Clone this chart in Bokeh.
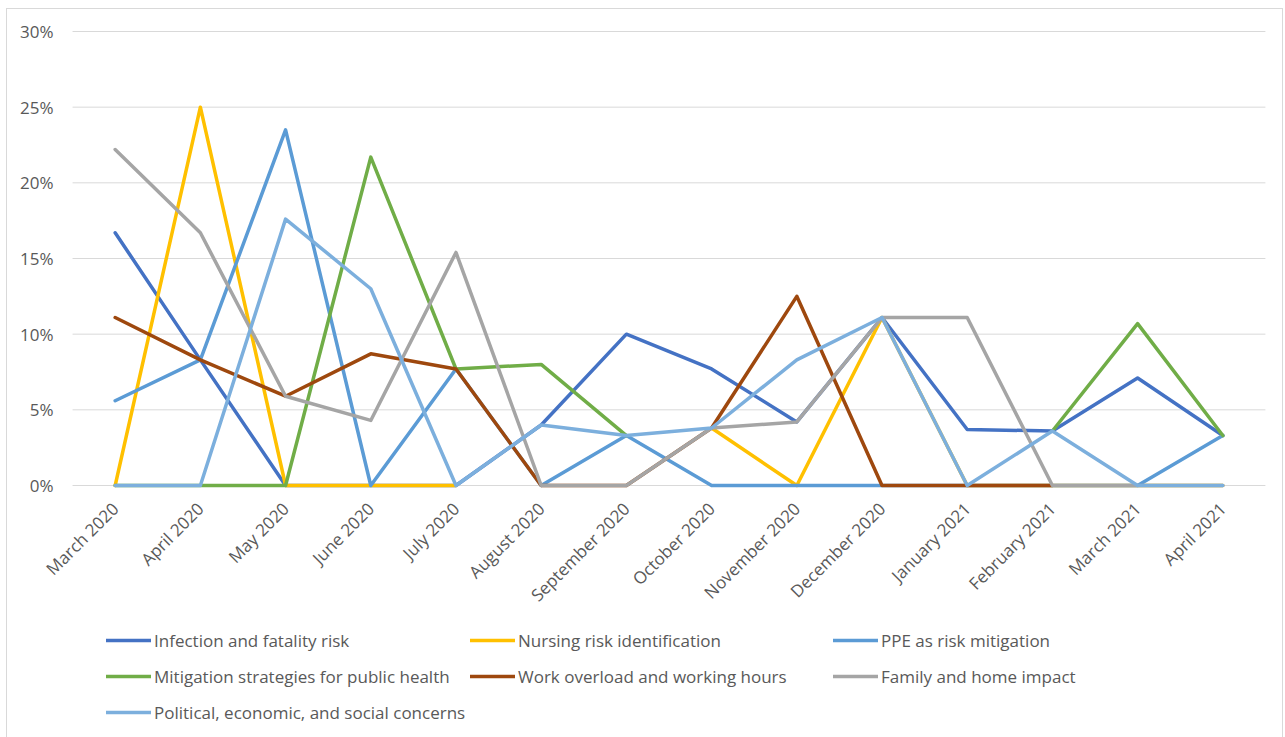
import math
import numpy as np
from bokeh.plotting import figure
from bokeh.models import (Range1d, FixedTicker, PrintfTickFormatter,
                          Legend, LegendItem)
from bokeh.embed import file_html
from bokeh.resources import INLINE

# Months covered by the survey
months = ["March 2020", "April 2020", "May 2020", "June 2020", "July 2020",
          "August 2020", "September 2020", "October 2020", "November 2020",
          "December 2020", "January 2021", "February 2021", "March 2021",
          "April 2021"]

# Share of posts per theme and month (%); None = no entry that month
infection = [16.7, 8.3, 0, 0, 0, 4.0, 10.0, 7.7, 4.2, 11.1, 3.7, 3.6, 7.1, 3.3]
nursing = [0, 25.0, 0, 0, 0, None, None, 3.8, 0, 11.1, 0, 0, 0, 0]
ppe = [5.6, 8.3, 23.5, 0, 7.7, 0, 3.3, 0, 0, 0, 0, 0, 0, 3.3]
mitigation = [0, 0, 0, 21.7, 7.7, 8.0, 3.3, None, None, None, None, 3.6, 10.7, 3.3]
workload = [11.1, 8.3, 5.9, 8.7, 7.7, 0, 0, 3.8, 12.5, 0, 0, 0, None, None]
family = [22.2, 16.7, 5.9, 4.3, 15.4, 0, 0, 3.8, 4.2, 11.1, 11.1, 0, 0, 0]
political = [0, 0, 17.6, 13.0, 0, 4.0, 3.3, 3.8, 8.3, 11.1, 0, 3.6, 0, 0]

y_ticks = [0, 5, 10, 15, 20, 25, 30]

series = [
    ("Infection and fatality risk", infection, "#4472C4"),
    ("Nursing risk identification", nursing, "#FFC000"),
    ("PPE as risk mitigation", ppe, "#5B9BD5"),
    ("Mitigation strategies for public health", mitigation, "#70AD47"),
    ("Work overload and working hours", workload, "#9E480E"),
    ("Family and home impact", family, "#A5A5A5"),
    ("Political, economic, and social concerns", political, "#7CAFDD"),
]

TEXT = "#595959"
FONT = "Open Sans"
GRID = "#D9D9D9"

W, H = 1277, 731
# The plotting frame fills the whole figure so that the month labels, the
# percentage labels and the legend all sit inside it.
PX_PER_PCT = 454 / 30.0
Y_TOP = 30 + 22 / PX_PER_PCT
Y_BOTTOM = Y_TOP - H / PX_PER_PCT
PX_PER_MONTH = 85.07
X_START = -107.5 / PX_PER_MONTH
X_END = X_START + (W - 2) / PX_PER_MONTH

x = np.arange(len(months))
x_lo, x_hi = x[0] - 0.5, x[-1] + 0.5

p = figure(width=W, height=H, x_range=Range1d(X_START, X_END),
           y_range=Range1d(Y_BOTTOM, Y_TOP), output_backend="svg",
           toolbar_location=None,
           min_border_left=0, min_border_right=0, min_border_top=0,
           min_border_bottom=0,
           styles={"border": "1px solid #D9D9D9", "margin-left": "6px",
                   "margin-top": "8px"})
p.outline_line_color = None
p.background_fill_color = "white"
p.border_fill_color = "white"
p.grid.visible = False

# Horizontal gridlines across the month span only
p.segment(x0=[x_lo] * len(y_ticks), x1=[x_hi] * len(y_ticks),
          y0=y_ticks, y1=y_ticks, line_color=GRID, line_width=1)

p.yaxis.fixed_location = x_lo
p.yaxis.ticker = FixedTicker(ticks=y_ticks)
p.yaxis.formatter = PrintfTickFormatter(format="%d%%")
p.yaxis.axis_line_color = None
p.yaxis.major_tick_line_color = None
p.yaxis.minor_tick_line_color = None
p.yaxis.major_tick_out = 0
p.yaxis.minor_tick_out = 0
p.yaxis.major_label_standoff = 19

p.xaxis.fixed_location = 0
p.xaxis.ticker = FixedTicker(ticks=[int(i) for i in x])
p.xaxis.major_label_overrides = {int(i): m for i, m in zip(x, months)}
p.xaxis.axis_line_color = None
p.xaxis.major_tick_line_color = None
p.xaxis.minor_tick_line_color = None
p.xaxis.major_tick_out = 0
p.xaxis.minor_tick_out = 0
p.xaxis.major_label_orientation = math.pi / 4
p.xaxis.major_label_standoff = 20

for ax in (p.xaxis, p.yaxis):
    ax.major_label_text_font = FONT
    ax.major_label_text_font_size = "17px"
    ax.major_label_text_color = TEXT

renderers = []
for name, vals, color in series:
    y = np.array(vals, dtype=float)
    r = p.line(x, y, line_color=color, line_width=3.5,
               line_join="round", line_cap="round")
    renderers.append((name, r))

# Legend: three columns, filled row by row, under the month labels
col_x = [99, 463, 826]
row_top = [88, 52, 16]
for i, (name, r) in enumerate(renderers):
    leg = Legend(items=[LegendItem(label=name, renderers=[r])],
                 location=(col_x[i % 3], row_top[i // 3]),
                 padding=0, margin=0, spacing=0,
                 glyph_width=45, glyph_height=24, label_height=24,
                 label_standoff=3,
                 border_line_color=None, background_fill_alpha=0,
                 label_text_font=FONT, label_text_font_size="17px",
                 label_text_color=TEXT)
    p.add_layout(leg, "center")

open("out.html", "w").write(file_html(p, INLINE))
